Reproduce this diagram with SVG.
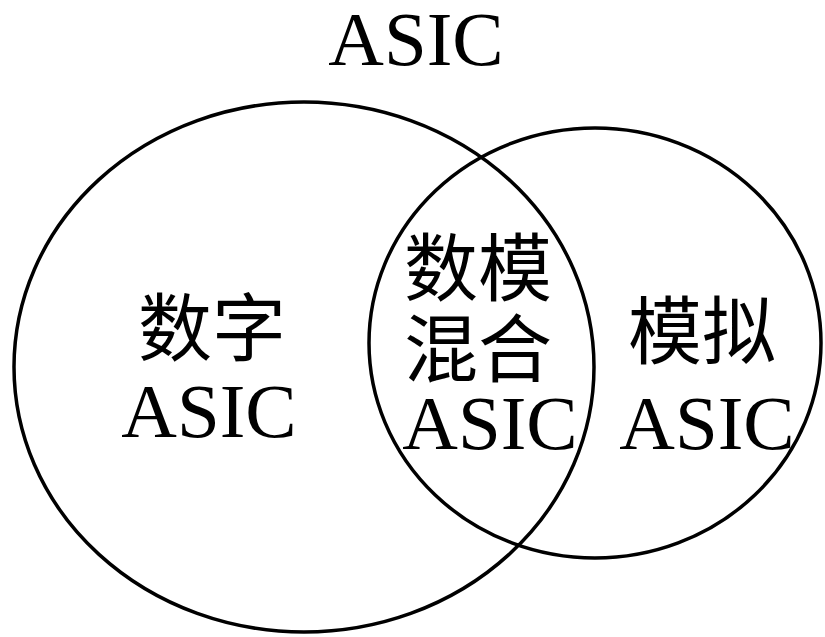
<svg xmlns="http://www.w3.org/2000/svg" width="825" height="637" viewBox="0 0 825 637">
<style>
.c{fill:none;stroke:#000;stroke-width:3.5}
.l{font-family:"Liberation Serif","Times New Roman",serif;font-size:77px;fill:#000;text-anchor:middle}
.z{font-family:"Noto Sans CJK SC","Noto Sans CJK TC",sans-serif;font-size:74px;fill:#000;text-anchor:middle}
</style>
<rect width="825" height="637" fill="#fff"/>
<g id="title"><text class="l" x="416" y="65">ASIC</text></g>
<g id="connectors">
<ellipse id="digital-set" class="c" cx="304" cy="367" rx="290" ry="265"/>
<ellipse id="analog-set" class="c" cx="595" cy="343" rx="226" ry="215"/>
</g>
<g id="digital"><text class="z" x="212" y="355">数字</text><text class="l" x="209" y="437">ASIC</text></g>
<g id="mixed"><text class="z" x="478" y="295">数模</text><text class="z" x="478" y="376">混合</text><text class="l" x="490" y="449">ASIC</text></g>
<g id="analog"><text class="z" x="702" y="358">模拟</text><text class="l" x="707" y="449">ASIC</text></g>
</svg>
